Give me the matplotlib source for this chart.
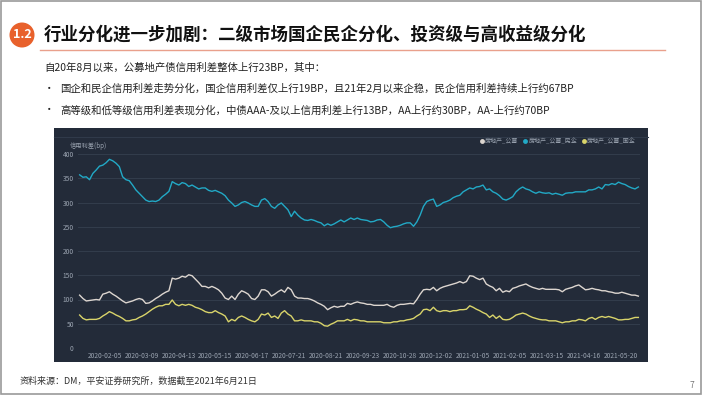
import numpy as np
import matplotlib
matplotlib.use("Agg")
import matplotlib.pyplot as plt
from matplotlib.patches import Rectangle, Ellipse
from matplotlib.lines import Line2D

plt.rcParams['font.family'] = ['Noto Sans CJK SC', 'DejaVu Sans']

# 信用利差 (bp), one value every ~3.3 px
all_bp = [109, 102, 97, 98, 99, 100, 99, 111, 113, 116, 111, 107, 102, 97, 93, 95, 97, 100, 102, 100,
          92, 93, 97, 102, 106, 111, 115, 118, 144, 142, 144, 148, 146, 151, 149, 142, 135, 127, 127, 124,
          127, 124, 120, 113, 103, 100, 107, 100, 111, 118, 115, 111, 102, 100, 107, 120, 120, 116, 107,
          111, 116, 120, 115, 125, 120, 107, 103, 103, 102, 102, 100, 97, 93, 90, 86, 79, 83, 86, 84,
          86, 86, 92, 90, 93, 95, 93, 92, 90, 90, 88, 88, 88, 88, 90, 86, 84, 88, 90, 90,
          91, 92, 91, 100, 111, 120, 121, 120, 125, 118, 123, 126, 128, 130, 132, 134, 137,
          134, 137, 149, 148, 144, 141, 144, 132, 128, 125, 118, 123, 115, 118, 116, 123, 125, 128, 130, 132,
          128, 125, 123, 121, 123, 121, 121, 121, 121, 120, 116, 121, 123, 125, 128, 130, 125, 120, 121, 123,
          121, 120, 118, 118, 116, 115, 113, 113, 115, 113, 111, 109, 109, 107]

private_bp = [357, 352, 353, 347, 360, 367, 375, 377, 382, 389, 386, 381, 374, 353, 347, 345, 336, 326, 319, 312,
              305, 302, 303, 302, 305, 312, 317, 323, 343, 339, 336, 341, 339, 333, 336, 332, 328, 330, 330, 325,
              323, 325, 322, 319, 314, 305, 299, 292, 295, 300, 302, 299, 295, 292, 292, 305, 308, 302, 292,
              288, 295, 299, 292, 285, 271, 282, 274, 268, 264, 263, 265, 263, 260, 258, 252, 256, 253, 256,
              260, 264, 260, 264, 268, 265, 268, 265, 264, 263, 260, 261, 264, 265, 260, 253, 248, 250, 251,
              253, 256, 258, 258, 251, 260, 274, 292, 302, 305, 307, 292, 295, 300, 302, 305, 310, 313, 315,
              322, 326, 330, 328, 332, 333, 336, 326, 328, 322, 319, 314, 307, 305, 308, 312, 322, 328, 332, 328,
              326, 322, 319, 322, 320, 319, 320, 317, 319, 317, 315, 319, 320, 320, 322, 322, 322, 322, 326, 326,
              328, 332, 328, 337, 336, 339, 337, 342, 339, 337, 333, 330, 328, 332]

state_bp = [68, 61, 58, 59, 59, 59, 61, 66, 70, 75, 72, 68, 65, 61, 56, 56, 58, 59, 63, 66,
            70, 75, 80, 84, 87, 87, 90, 90, 99, 90, 87, 90, 88, 90, 88, 84, 82, 79, 75, 73,
            73, 77, 73, 70, 66, 54, 59, 56, 63, 66, 63, 59, 56, 54, 59, 70, 68, 72, 63,
            66, 61, 72, 77, 70, 66, 56, 56, 58, 56, 56, 56, 54, 54, 51, 46, 45, 49, 52, 56,
            56, 56, 59, 56, 59, 58, 56, 56, 54, 54, 54, 54, 54, 52, 52, 52, 54, 54, 56, 56,
            58, 59, 61, 66, 70, 79, 80, 77, 84, 77, 75, 77, 77, 75, 77, 77, 79,
            79, 80, 87, 84, 80, 77, 73, 70, 63, 68, 61, 66, 59, 58, 59, 63, 68, 70, 72, 70,
            66, 63, 61, 59, 58, 58, 56, 56, 56, 54, 52, 54, 54, 56, 56, 59, 58, 56, 61, 63,
            59, 63, 65, 63, 65, 63, 61, 58, 58, 59, 59, 61, 63, 63]

date_labels = ['2020-02-05', '2020-03-09', '2020-04-13', '2020-05-15', '2020-06-17', '2020-07-21',
               '2020-08-21', '2020-09-23', '2020-10-28', '2020-12-02', '2021-01-05', '2021-02-05',
               '2021-03-15', '2021-04-16', '2021-05-20']

series_names = ['房地产_公募', '房地产_公募_民企', '房地产_公募_国企']
series_colors = ['#ddd6d0', '#22a9c6', '#d9d46a']

W, H = 702, 395
fig = plt.figure(figsize=(W / 100, H / 100), dpi=100)
fig.patch.set_facecolor('white')


def fx(px):
    return px / W


def fy(py):
    return 1 - py / H


# slide frame
fig.patches.append(Rectangle((0.001, 0.002), 0.997, 0.995, transform=fig.transFigure,
                             fill=False, edgecolor='#9a9a9a', linewidth=1.2, zorder=-5))

# title
fig.patches.append(Ellipse((fx(22), fy(35)), 25 / W, 25 / H, transform=fig.transFigure,
                           facecolor='#e8612c', edgecolor='none', zorder=-4))
fig.text(fx(22), fy(35), '1.2', color='white', fontsize=9, ha='center', va='center', fontweight='bold')
fig.text(fx(44), fy(35), '行业分化进一步加剧：二级市场国企民企分化、投资级与高收益级分化',
         fontsize=12.6, fontweight='bold', color='#111111', ha='left', va='center')
fig.lines.append(Line2D([fx(40), fx(665)], [fy(50), fy(50)], transform=fig.transFigure,
                        color='#e9a08c', linewidth=1))

fig.text(fx(44), fy(68), '自20年8月以来，公募地产债信用利差整体上行23BP，其中：',
         fontsize=7.5, color='#222222', va='center')
fig.text(fx(44), fy(89), '•', fontsize=7.5, color='#222222', va='center')
fig.text(fx(60), fy(89), '国企和民企信用利差走势分化，国企信用利差仅上行19BP，且21年2月以来企稳，民企信用利差持续上行约67BP',
         fontsize=7.5, color='#222222', va='center')
fig.text(fx(44), fy(110), '•', fontsize=7.5, color='#222222', va='center')
fig.text(fx(60), fy(110), '高等级和低等级信用利差表现分化，中债AAA-及以上信用利差上行13BP，AA上行约30BP，AA-上行约70BP',
         fontsize=7.5, color='#222222', va='center')

# dark chart panel
fig.patches.append(Rectangle((fx(54), fy(362)), fx(648) - fx(54), fy(128) - fy(362),
                             transform=fig.transFigure, facecolor='#232b39', edgecolor='none', zorder=-3))
fig.lines.append(Line2D([fx(54), fx(648)], [fy(137), fy(137)], transform=fig.transFigure,
                        color='#303a4a', linewidth=0.8, zorder=-2))

ax = fig.add_axes([fx(78), fy(348), fx(640) - fx(78), fy(154) - fy(348)])
ax.set_facecolor('none')
x = np.arange(len(all_bp))
for vals, name, col in zip([all_bp, private_bp, state_bp], series_names, series_colors):
    ax.plot(x, vals, color=col, linewidth=1.0, label=name)

ax.set_xlim(-0.5, len(all_bp) - 0.5)
ax.set_ylim(0, 400)
ax.set_yticks(range(0, 401, 50))
ax.grid(axis='y', color='#333d4c', linewidth=0.7)
ax.set_axisbelow(True)
tick_pos = np.linspace(7.6, 163.6, len(date_labels))
ax.set_xticks(tick_pos)
ax.set_xticklabels(date_labels)
ax.tick_params(axis='both', colors='#9aa3b0', labelsize=4.8, length=0, pad=3)
for s in ax.spines.values():
    s.set_visible(False)

fig.text(fx(70), fy(146), '信用利差(bp)', fontsize=4.5, color='#9aa3b0', va='center')

handles = [Line2D([], [], linestyle='none', marker='o', markersize=3.5, markerfacecolor=c,
                  markeredgecolor='none') for c in series_colors]
leg = fig.legend(handles, series_names, loc='center right', bbox_to_anchor=(fx(636), fy(141)),
                 ncol=3, frameon=False, fontsize=4.3, handlelength=0.5, handletextpad=0.3,
                 columnspacing=0.9, labelcolor='#9aa3b0', borderpad=0, borderaxespad=0)

# footer
fig.text(fx(20), fy(381), '资料来源：DM，平安证券研究所，数据截至2021年6月21日',
         fontsize=6.5, color='#333333', va='center')
fig.text(fx(692), fy(386), '7', fontsize=6, color='#777777', va='center', ha='center')

fig.savefig('out.png', dpi=100)
